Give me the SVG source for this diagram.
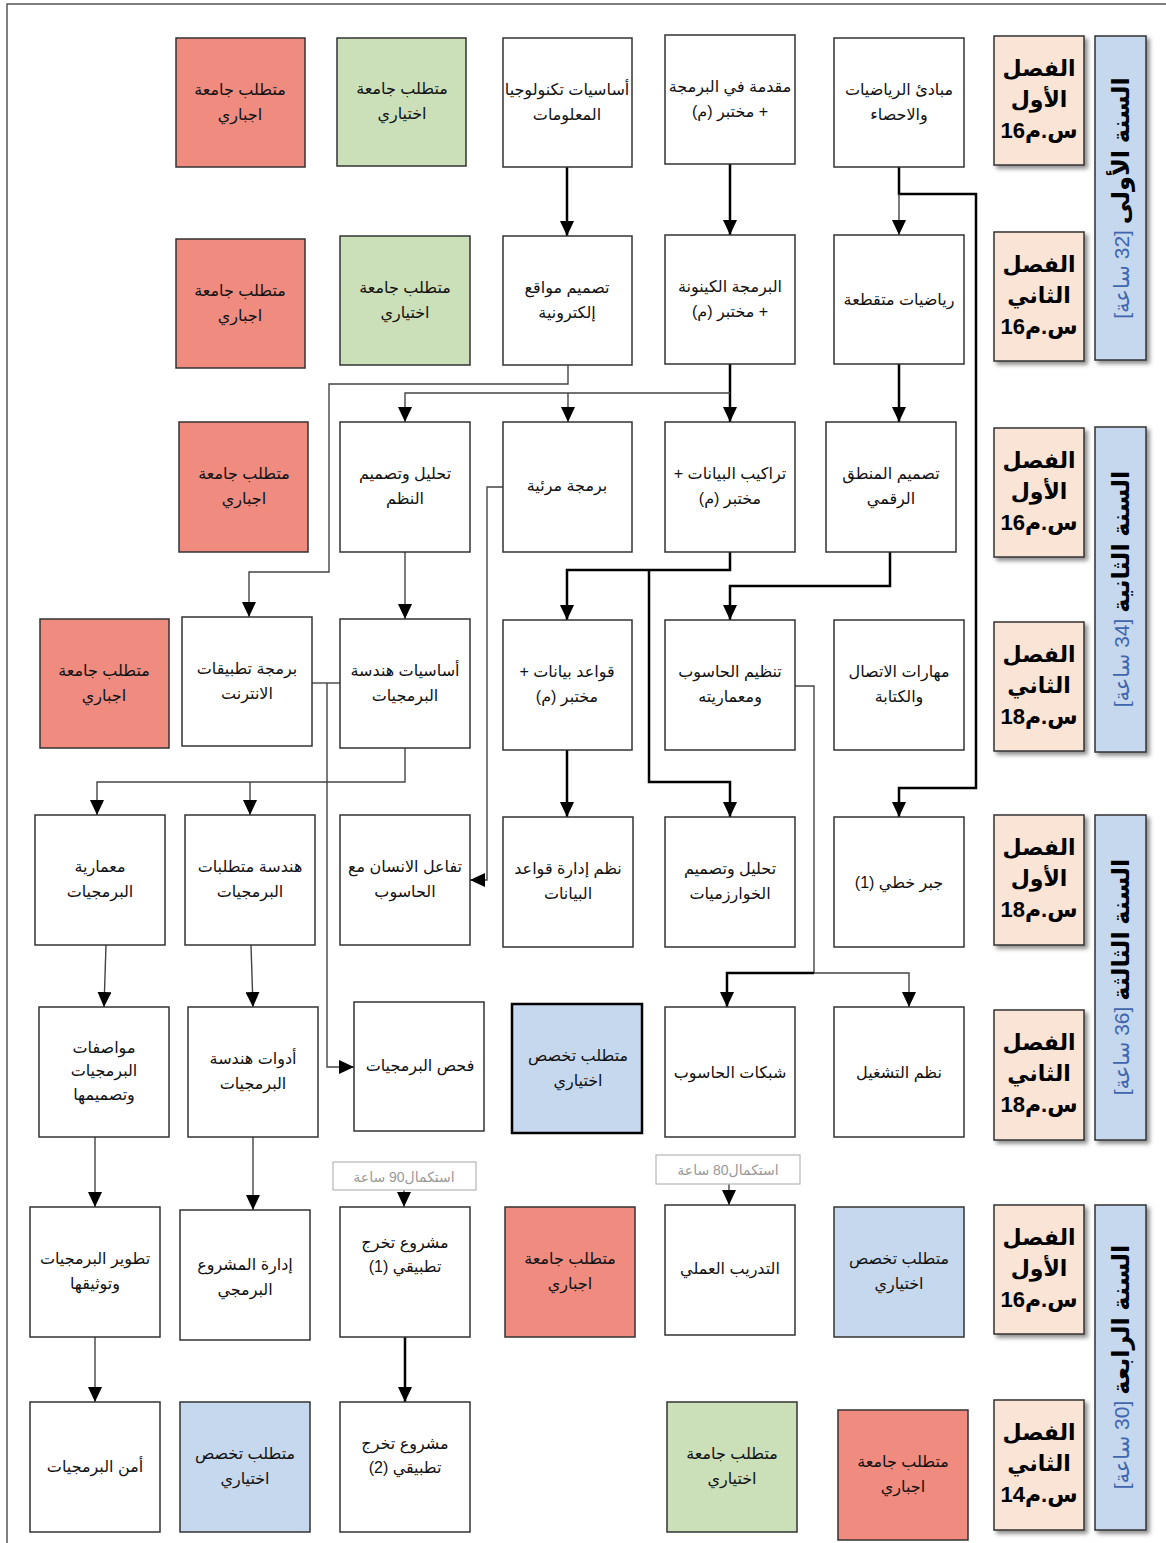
<svg xmlns="http://www.w3.org/2000/svg" width="1166" height="1543" viewBox="0 0 1166 1543">
<defs>
<style>
.n rect{stroke:#333;stroke-width:1.5;fill:#fff}
.red rect{fill:#ef8b7f}
.grn rect{fill:#cbe0b9}
.blu rect{fill:#c5d8ee}
.t{font-family:"Liberation Sans","DejaVu Sans",Arial,sans-serif;font-size:16px;fill:#111;text-anchor:middle;direction:rtl}
.sem rect{fill:#f9e4d6;stroke:#333;stroke-width:1.5}
.sem text{font-family:"Liberation Sans","DejaVu Sans",Arial,sans-serif;font-size:22px;font-weight:bold;fill:#000;text-anchor:middle}
.yr rect{fill:#c5d8ee;stroke:#333;stroke-width:1.5}
.yt{font-family:"Liberation Sans","DejaVu Sans",Arial,sans-serif;text-anchor:middle;direction:rtl}
.yb{font-size:24px;font-weight:bold;fill:#000}
.yh{font-size:21px;fill:#3f66ae}
.thick{fill:none;stroke:#000;stroke-width:2.5}
.thin{fill:none;stroke:#444;stroke-width:1.4}
.lbl rect{fill:#fff;stroke:#bbb;stroke-width:1.3}
.lbl text{font-family:"Liberation Sans","DejaVu Sans",Arial,sans-serif;font-size:14px;fill:#999;text-anchor:middle;direction:rtl}
</style>
<marker id="ah" markerUnits="userSpaceOnUse" markerWidth="16" markerHeight="14" refX="15" refY="7" orient="auto"><path d="M0,0 L15,7 L0,14 z" fill="#000"/></marker>
<filter id="sh" x="-10%" y="-10%" width="130%" height="130%"><feDropShadow dx="3" dy="3" stdDeviation="2" flood-color="#000" flood-opacity="0.45"/></filter>
</defs>
<rect x="0" y="0" width="1166" height="1543" fill="#fff"/>
<path d="M7,1543 V4 H1166" fill="none" stroke="#555" stroke-width="1.5"/>

<!-- semesters -->
<g id="semesters">
<g id="s1" class="sem"><rect x="994" y="36" width="90" height="129" filter="url(#sh)"/><text x="1039" y="76">الفصل</text><text x="1039" y="107">الأول</text><text x="1039" y="138" direction="ltr">16س.م</text></g>
<g id="s2" class="sem"><rect x="994" y="232" width="90" height="129" filter="url(#sh)"/><text x="1039" y="272">الفصل</text><text x="1039" y="303">الثاني</text><text x="1039" y="334" direction="ltr">16س.م</text></g>
<g id="s3" class="sem"><rect x="994" y="428" width="90" height="129" filter="url(#sh)"/><text x="1039" y="468">الفصل</text><text x="1039" y="499">الأول</text><text x="1039" y="530" direction="ltr">16س.م</text></g>
<g id="s4" class="sem"><rect x="994" y="622" width="90" height="129" filter="url(#sh)"/><text x="1039" y="662">الفصل</text><text x="1039" y="693">الثاني</text><text x="1039" y="724" direction="ltr">18س.م</text></g>
<g id="s5" class="sem"><rect x="994" y="815" width="90" height="130" filter="url(#sh)"/><text x="1039" y="855">الفصل</text><text x="1039" y="886">الأول</text><text x="1039" y="917" direction="ltr">18س.م</text></g>
<g id="s6" class="sem"><rect x="994" y="1010" width="90" height="130" filter="url(#sh)"/><text x="1039" y="1050">الفصل</text><text x="1039" y="1081">الثاني</text><text x="1039" y="1112" direction="ltr">18س.م</text></g>
<g id="s7" class="sem"><rect x="994" y="1205" width="90" height="129" filter="url(#sh)"/><text x="1039" y="1245">الفصل</text><text x="1039" y="1276">الأول</text><text x="1039" y="1307" direction="ltr">16س.م</text></g>
<g id="s8" class="sem"><rect x="994" y="1400" width="90" height="130" filter="url(#sh)"/><text x="1039" y="1440">الفصل</text><text x="1039" y="1471">الثاني</text><text x="1039" y="1502" direction="ltr">14س.م</text></g>
</g>

<g id="years">
<g id="y1" class="yr"><rect x="1095" y="36" width="51" height="324" filter="url(#sh)"/><text class="yt" transform="translate(1129,198) rotate(-90)"><tspan class="yb">السنة الأولى</tspan><tspan class="yh"> [32 ساعة]</tspan></text></g>
<g id="y2" class="yr"><rect x="1095" y="427" width="51" height="325" filter="url(#sh)"/><text class="yt" transform="translate(1129,589) rotate(-90)"><tspan class="yb">السنة الثانية</tspan><tspan class="yh"> [34 ساعة]</tspan></text></g>
<g id="y3" class="yr"><rect x="1095" y="815" width="51" height="325" filter="url(#sh)"/><text class="yt" transform="translate(1129,977) rotate(-90)"><tspan class="yb">السنة الثالثة</tspan><tspan class="yh"> [36 ساعة]</tspan></text></g>
<g id="y4" class="yr"><rect x="1095" y="1205" width="51" height="325" filter="url(#sh)"/><text class="yt" transform="translate(1129,1367) rotate(-90)"><tspan class="yb">السنة الرابعة</tspan><tspan class="yh"> [30 ساعة]</tspan></text></g>
</g>

<!-- connectors -->
<g id="connectors">
<path class="thick" d="M567,167 V236" marker-end="url(#ah)"/>
<path class="thick" d="M730,164 V235" marker-end="url(#ah)"/>
<path class="thick" d="M899,167 V194 H976 V788 H899 V817" marker-end="url(#ah)"/>
<path class="thin" d="M899,194 V235" marker-end="url(#ah)"/>
<path class="thick" d="M899,364 V422" marker-end="url(#ah)"/>
<path class="thick" d="M730,364 V422" marker-end="url(#ah)"/>
<path class="thin" d="M730,393 H405 V422" marker-end="url(#ah)"/>
<path class="thin" d="M568,393 V422" marker-end="url(#ah)"/>
<path class="thin" d="M568,365 V384 H329 V572 H249 V617" marker-end="url(#ah)"/>
<path class="thick" d="M730,552 V570 H567 V620" marker-end="url(#ah)"/>
<path class="thick" d="M649,570 V782 H730 V817" marker-end="url(#ah)"/>
<path class="thick" d="M890,552 V586 H730 V620" marker-end="url(#ah)"/>
<path class="thin" d="M405,552 V619" marker-end="url(#ah)"/>
<path class="thin" d="M503,487 H487 V880 H470" marker-end="url(#ah)"/>
<path class="thin" d="M405,748 V782 H97 V815" marker-end="url(#ah)"/>
<path class="thin" d="M250,782 V815" marker-end="url(#ah)"/>
<path class="thin" d="M312,683 H340"/>
<path class="thin" d="M327,683 V1067 H354" marker-end="url(#ah)"/>
<path class="thick" d="M567,750 V817" marker-end="url(#ah)"/>
<path class="thin" d="M795,686 H814 V973"/>
<path class="thick" d="M814,973 H727 V1007" marker-end="url(#ah)"/>
<path class="thin" d="M814,973 H909 V1007" marker-end="url(#ah)"/>
<path class="thin" d="M106,945 L104,1007" marker-end="url(#ah)"/>
<path class="thin" d="M251,945 L253,1007" marker-end="url(#ah)"/>
<path class="thin" d="M95,1137 V1207" marker-end="url(#ah)"/>
<path class="thin" d="M253,1137 V1210" marker-end="url(#ah)"/>
<path class="thin" d="M95,1337 V1402" marker-end="url(#ah)"/>
<path class="thick" d="M405,1337 V1402" marker-end="url(#ah)"/>
<path class="thin" d="M404,1190 V1207" marker-end="url(#ah)"/>
<path class="thin" d="M729,1184 V1205" marker-end="url(#ah)"/>
</g>

<g id="lbl90" class="lbl"><rect x="333" y="1162" width="143" height="28"/><text x="404" y="1182">استكمال90 ساعة</text></g>
<g id="lbl80" class="lbl"><rect x="656" y="1155" width="144" height="29"/><text x="728" y="1175">استكمال80 ساعة</text></g>

<!-- row 1 -->
<g id="n_math_stats" class="n"><rect x="834" y="38" width="130" height="129"/><text class="t" x="899" y="95">مبادئ الرياضيات</text><text class="t" x="899" y="120">والاحصاء</text></g>
<g id="n_intro_prog" class="n"><rect x="665" y="35" width="130" height="129"/><text class="t" x="730" y="92">مقدمة في البرمجة</text><text class="t" x="730" y="117">+ مختبر (م)</text></g>
<g id="n_it_basics" class="n"><rect x="503" y="38" width="129" height="129"/><text class="t" x="567" y="95">أساسيات تكنولوجيا</text><text class="t" x="567" y="120">المعلومات</text></g>
<g id="n_ue1" class="n grn"><rect x="337" y="38" width="129" height="128"/><text class="t" x="402" y="94">متطلب جامعة</text><text class="t" x="402" y="119">اختياري</text></g>
<g id="n_uc1" class="n red"><rect x="176" y="38" width="129" height="129"/><text class="t" x="240" y="95">متطلب جامعة</text><text class="t" x="240" y="120">اجباري</text></g>

<!-- row 2 -->
<g id="n_discrete" class="n"><rect x="834" y="235" width="130" height="129"/><text class="t" x="899" y="305">رياضيات متقطعة</text></g>
<g id="n_oop" class="n"><rect x="665" y="235" width="130" height="129"/><text class="t" x="730" y="292">البرمجة الكينونة</text><text class="t" x="730" y="317">+ مختبر (م)</text></g>
<g id="n_web_design" class="n"><rect x="503" y="236" width="129" height="129"/><text class="t" x="567" y="293">تصميم مواقع</text><text class="t" x="567" y="318">إلكترونية</text></g>
<g id="n_ue2" class="n grn"><rect x="340" y="236" width="130" height="129"/><text class="t" x="405" y="293">متطلب جامعة</text><text class="t" x="405" y="318">اختياري</text></g>
<g id="n_uc2" class="n red"><rect x="176" y="239" width="129" height="129"/><text class="t" x="240" y="296">متطلب جامعة</text><text class="t" x="240" y="321">اجباري</text></g>

<!-- row 3 -->
<g id="n_logic" class="n"><rect x="826" y="422" width="130" height="130"/><text class="t" x="891" y="479">تصميم المنطق</text><text class="t" x="891" y="504">الرقمي</text></g>
<g id="n_ds" class="n"><rect x="665" y="422" width="130" height="130"/><text class="t" x="730" y="479">تراكيب البيانات +</text><text class="t" x="730" y="504">مختبر (م)</text></g>
<g id="n_visual" class="n"><rect x="503" y="422" width="129" height="130"/><text class="t" x="567" y="491">برمجة مرئية</text></g>
<g id="n_sad" class="n"><rect x="340" y="422" width="130" height="130"/><text class="t" x="405" y="479">تحليل وتصميم</text><text class="t" x="405" y="504">النظم</text></g>
<g id="n_uc3" class="n red"><rect x="179" y="422" width="129" height="130"/><text class="t" x="244" y="479">متطلب جامعة</text><text class="t" x="244" y="504">اجباري</text></g>

<!-- row 4 -->
<g id="n_comm" class="n"><rect x="834" y="620" width="130" height="130"/><text class="t" x="899" y="677">مهارات الاتصال</text><text class="t" x="899" y="702">والكتابة</text></g>
<g id="n_arch" class="n"><rect x="665" y="620" width="130" height="130"/><text class="t" x="730" y="677">تنظيم الحاسوب</text><text class="t" x="730" y="702">ومعماريته</text></g>
<g id="n_db" class="n"><rect x="503" y="620" width="129" height="130"/><text class="t" x="567" y="677">قواعد بيانات +</text><text class="t" x="567" y="702">مختبر (م)</text></g>
<g id="n_se_basics" class="n"><rect x="340" y="619" width="130" height="129"/><text class="t" x="405" y="676">أساسيات هندسة</text><text class="t" x="405" y="701">البرمجيات</text></g>
<g id="n_web_app" class="n"><rect x="182" y="617" width="130" height="129"/><text class="t" x="247" y="674">برمجة تطبيقات</text><text class="t" x="247" y="699">الانترنت</text></g>
<g id="n_uc4" class="n red"><rect x="40" y="619" width="129" height="129"/><text class="t" x="104" y="676">متطلب جامعة</text><text class="t" x="104" y="701">اجباري</text></g>

<!-- row 5 -->
<g id="n_linalg" class="n"><rect x="834" y="817" width="130" height="130"/><text class="t" x="899" y="888">جبر خطي (1)</text></g>
<g id="n_algo" class="n"><rect x="665" y="817" width="130" height="130"/><text class="t" x="730" y="874">تحليل وتصميم</text><text class="t" x="730" y="899">الخوارزميات</text></g>
<g id="n_dbms" class="n"><rect x="503" y="817" width="130" height="130"/><text class="t" x="568" y="874">نظم إدارة قواعد</text><text class="t" x="568" y="899">البيانات</text></g>
<g id="n_hci" class="n"><rect x="340" y="815" width="130" height="130"/><text class="t" x="405" y="872">تفاعل الانسان مع</text><text class="t" x="405" y="897">الحاسوب</text></g>
<g id="n_req" class="n"><rect x="185" y="815" width="130" height="130"/><text class="t" x="250" y="872">هندسة متطلبات</text><text class="t" x="250" y="897">البرمجيات</text></g>
<g id="n_sw_arch" class="n"><rect x="35" y="815" width="130" height="130"/><text class="t" x="100" y="872">معمارية</text><text class="t" x="100" y="897">البرمجيات</text></g>

<!-- row 6 -->
<g id="n_os" class="n"><rect x="834" y="1007" width="130" height="130"/><text class="t" x="899" y="1078">نظم التشغيل</text></g>
<g id="n_net" class="n"><rect x="665" y="1007" width="130" height="130"/><text class="t" x="730" y="1078">شبكات الحاسوب</text></g>
<g id="n_se1" class="n blu"><rect x="512" y="1004" width="130" height="129" style="stroke:#000;stroke-width:2.5"/><text class="t" x="578" y="1061">متطلب تخصص</text><text class="t" x="578" y="1086">اختياري</text></g>
<g id="n_testing" class="n"><rect x="354" y="1002" width="130" height="129"/><text class="t" x="420" y="1071">فحص البرمجيات</text></g>
<g id="n_tools" class="n"><rect x="188" y="1007" width="130" height="130"/><text class="t" x="253" y="1064">أدوات هندسة</text><text class="t" x="253" y="1089">البرمجيات</text></g>
<g id="n_spec" class="n"><rect x="39" y="1007" width="130" height="130"/><text class="t" x="104" y="1053">مواصفات</text><text class="t" x="104" y="1076">البرمجيات</text><text class="t" x="104" y="1100">وتصميمها</text></g>

<!-- row 7 -->
<g id="n_se2" class="n blu"><rect x="834" y="1207" width="130" height="130"/><text class="t" x="899" y="1264">متطلب تخصص</text><text class="t" x="899" y="1289">اختياري</text></g>
<g id="n_training" class="n"><rect x="665" y="1205" width="130" height="130"/><text class="t" x="730" y="1274">التدريب العملي</text></g>
<g id="n_uc5" class="n red"><rect x="505" y="1207" width="130" height="130"/><text class="t" x="570" y="1264">متطلب جامعة</text><text class="t" x="570" y="1289">اجباري</text></g>
<g id="n_proj1" class="n"><rect x="340" y="1207" width="130" height="130"/><text class="t" x="405" y="1248">مشروع تخرج</text><text class="t" x="405" y="1272">تطبيقي (1)</text></g>
<g id="n_pm" class="n"><rect x="180" y="1210" width="130" height="130"/><text class="t" x="245" y="1270">إدارة المشروع</text><text class="t" x="245" y="1295">البرمجي</text></g>
<g id="n_dev" class="n"><rect x="30" y="1207" width="130" height="130"/><text class="t" x="95" y="1264">تطوير البرمجيات</text><text class="t" x="95" y="1289">وتوثيقها</text></g>

<!-- row 8 -->
<g id="n_uc6" class="n red"><rect x="838" y="1410" width="130" height="130"/><text class="t" x="903" y="1467">متطلب جامعة</text><text class="t" x="903" y="1492">اجباري</text></g>
<g id="n_ue3" class="n grn"><rect x="667" y="1402" width="130" height="130"/><text class="t" x="732" y="1459">متطلب جامعة</text><text class="t" x="732" y="1484">اختياري</text></g>
<g id="n_proj2" class="n"><rect x="340" y="1402" width="130" height="130"/><text class="t" x="405" y="1449">مشروع تخرج</text><text class="t" x="405" y="1473">تطبيقي (2)</text></g>
<g id="n_se3" class="n blu"><rect x="180" y="1402" width="130" height="130"/><text class="t" x="245" y="1459">متطلب تخصص</text><text class="t" x="245" y="1484">اختياري</text></g>
<g id="n_security" class="n"><rect x="30" y="1402" width="130" height="130"/><text class="t" x="95" y="1472">أمن البرمجيات</text></g>
</svg>
